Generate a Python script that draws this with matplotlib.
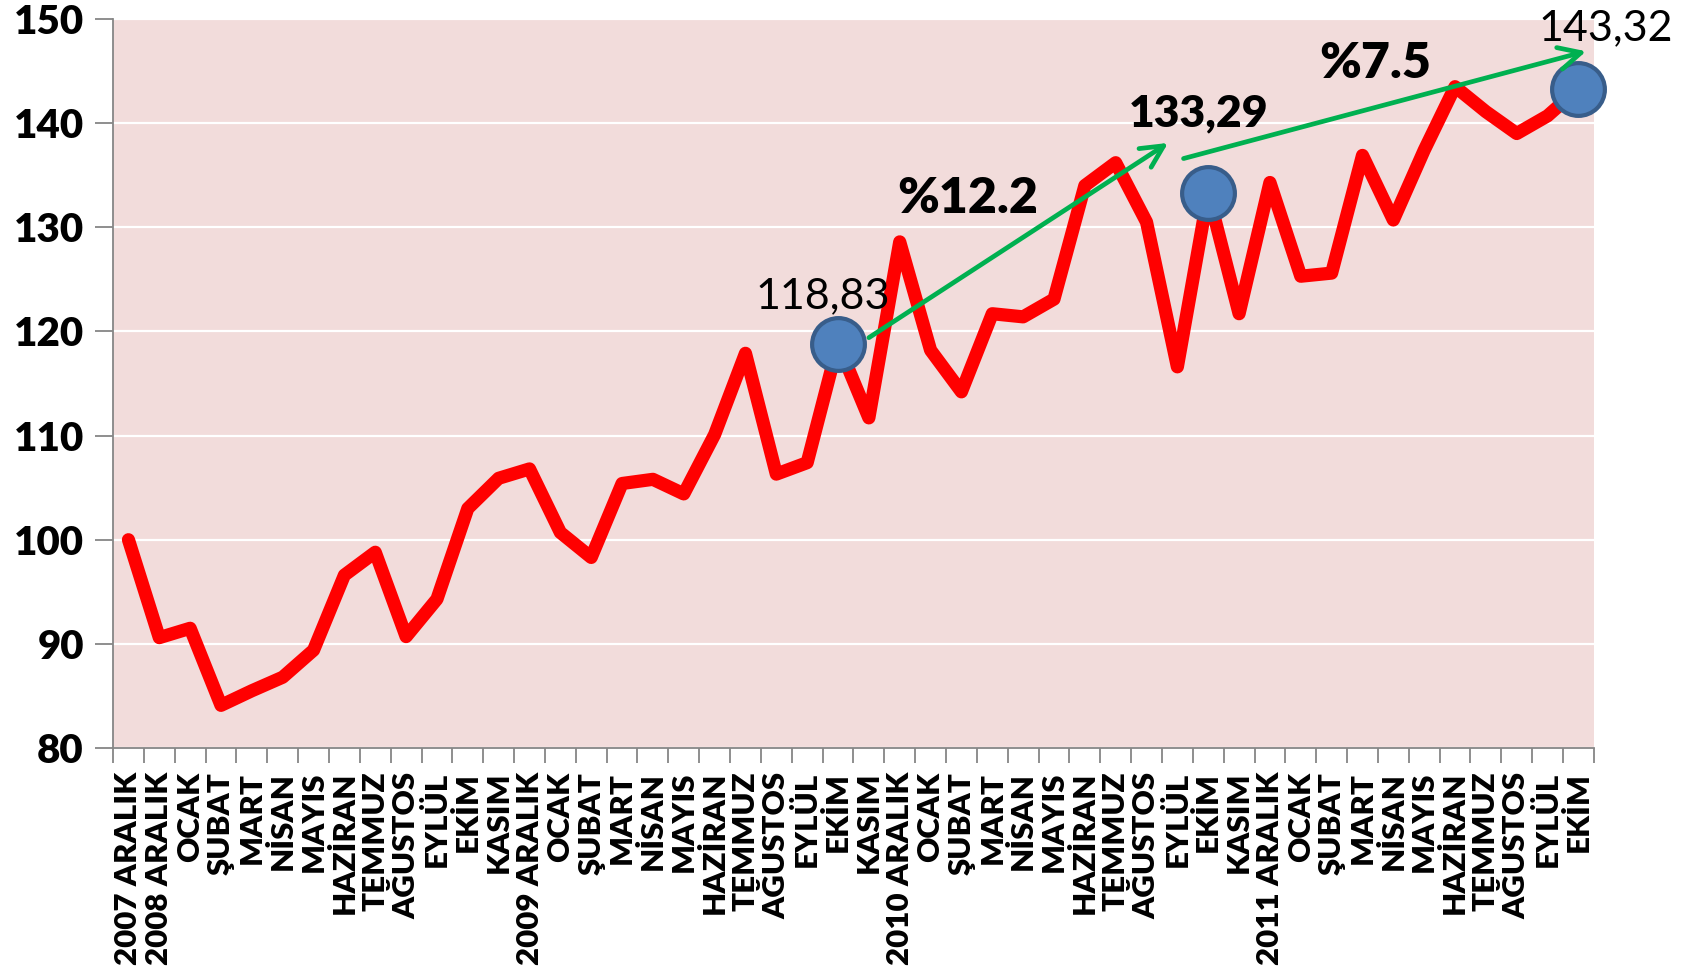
import matplotlib
matplotlib.use("Agg")
import matplotlib.pyplot as plt

plt.rcParams["font.family"] = ["Lato", "DejaVu Sans"]

# month labels as in the original chart
labels = [
    "2007 ARALIK", "2008 ARALIK", "OCAK", "ŞUBAT", "MART", "NİSAN", "MAYIS",
    "HAZİRAN", "TEMMUZ", "AĞUSTOS", "EYLÜL", "EKİM", "KASIM",
    "2009 ARALIK", "OCAK", "ŞUBAT", "MART", "NİSAN", "MAYIS", "HAZİRAN",
    "TEMMUZ", "AĞUSTOS", "EYLÜL", "EKİM", "KASIM",
    "2010 ARALIK", "OCAK", "ŞUBAT", "MART", "NİSAN", "MAYIS", "HAZİRAN",
    "TEMMUZ", "AĞUSTOS", "EYLÜL", "EKİM", "KASIM",
    "2011 ARALIK", "OCAK", "ŞUBAT", "MART", "NİSAN", "MAYIS", "HAZİRAN",
    "TEMMUZ", "AĞUSTOS", "EYLÜL", "EKİM",
]
values = [
    100.0, 90.6, 91.5, 84.1, 85.5, 86.8, 89.4, 96.6, 98.8, 90.7, 94.3, 103.0, 105.9,
    106.8, 100.7, 98.3, 105.4, 105.8, 104.4, 110.1, 117.9, 106.3, 107.4, 118.83, 111.7,
    128.6, 118.2, 114.2, 121.7, 121.4, 123.1, 134.0, 136.2, 130.5, 116.6, 133.29, 121.7,
    134.3, 125.3, 125.6, 136.9, 130.7, 137.4, 143.5, 141.1, 139.0, 140.7, 143.32,
]
# highlighted points (index into the series)
highlight_idx = [23, 35, 47]
highlight_text = ["118,83", "133,29", "143,32"]
growth_text = ["%12.2", "%7.5"]

x = list(range(len(values)))

fig = plt.figure(figsize=(16.92, 9.73), dpi=100)
ax = fig.add_axes([0.0668, 0.2312, 0.8752, 0.7493])
ax.set_facecolor("#F2DCDB")

ax.plot(x, values, color="#FF0000", linewidth=9.5, solid_joinstyle="round",
        solid_capstyle="round", zorder=3)
ax.plot(highlight_idx, [values[i] for i in highlight_idx], linestyle="none",
        marker="o", markersize=38, markerfacecolor="#4F81BD",
        markeredgecolor="#385D8A", markeredgewidth=3, zorder=4, clip_on=False)

ax.set_xlim(-0.5, len(values) - 0.5)
ax.set_ylim(80, 150)
ax.set_yticks(range(80, 151, 10))
ax.grid(axis="y", color="white", linewidth=1.6)
ax.set_axisbelow(True)

ax.set_xticks(x)
ax.set_xticklabels(labels, rotation=90, fontsize=22.5, fontweight="heavy")
ax.set_xticks([i - 0.5 for i in range(len(values) + 1)], minor=True)
ax.tick_params(axis="x", which="major", length=0, pad=17)
ax.tick_params(axis="x", which="minor", length=11, width=1.3, color="#868686")
ax.tick_params(axis="y", length=13, width=1.3, color="#868686", labelsize=29, pad=8)
for t in ax.get_yticklabels():
    t.set_fontweight("heavy")

for side in ["top", "right"]:
    ax.spines[side].set_visible(False)
for side in ["left", "bottom"]:
    ax.spines[side].set_color("#868686")
    ax.spines[side].set_linewidth(1.3)

# value labels
ax.text(22.5, 123.4, highlight_text[0], fontsize=31, ha="center", va="center")
ax.text(34.7, 140.9, highlight_text[1], fontsize=32, fontweight="heavy",
        ha="center", va="center")
ax.text(47.9, 149.1, highlight_text[2], fontsize=31, ha="center", va="center",
        clip_on=False)

# growth arrows
green = "#00B050"
ax.annotate("", xy=(33.7, 138.1), xytext=(24.0, 119.4),
            arrowprops=dict(arrowstyle="->", color=green, lw=3.4,
                            mutation_scale=40, shrinkA=0, shrinkB=0), zorder=5)
ax.annotate("", xy=(47.25, 146.9), xytext=(34.2, 136.6),
            arrowprops=dict(arrowstyle="->", color=green, lw=3.4,
                            mutation_scale=40, shrinkA=0, shrinkB=0), zorder=5,
            annotation_clip=False)
ax.text(27.2, 132.8, growth_text[0], fontsize=36, fontweight="heavy",
        ha="center", va="center")
ax.text(40.4, 145.7, growth_text[1], fontsize=36, fontweight="heavy",
        ha="center", va="center")

fig.savefig("out.png", dpi=100)
